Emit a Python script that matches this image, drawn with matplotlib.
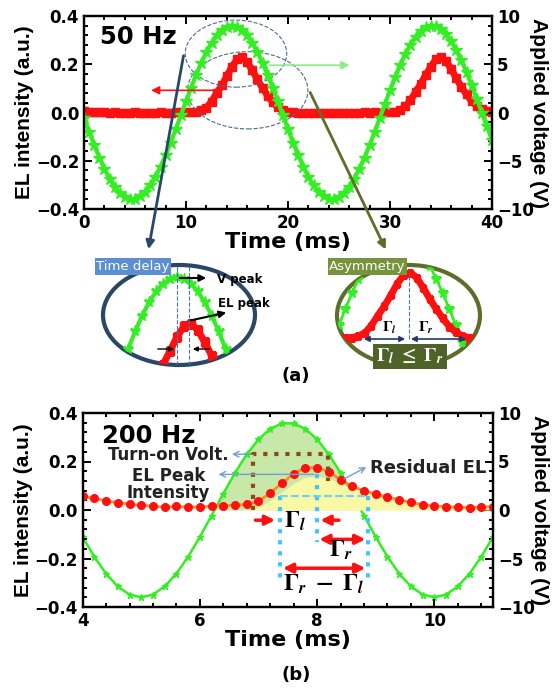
import numpy as np
import matplotlib.pyplot as plt
from matplotlib.patches import Ellipse, FancyArrowPatch
from matplotlib.ticker import AutoMinorLocator

plt.rcParams['font.family'] = ['DejaVu Sans']
plt.rcParams['font.weight'] = 'bold'
plt.rcParams['axes.labelweight'] = 'bold'
plt.rcParams['mathtext.fontset'] = 'stix'
plt.rcParams['axes.linewidth'] = 1.6

W, H = 558, 689

# ---- 50 Hz data (every 0.5 ms) ----
t50 = np.arange(0, 40.25, 0.5)
v50 = [-0.58, -2.00, -3.38, -4.67, -5.83, -6.85, -7.70, -8.34, -8.77, -8.98,
       -8.96, -8.70, -8.23, -7.54, -6.66, -5.61, -4.42, -3.11, -1.72, -0.29,
       1.15, 2.56, 3.90, 5.15, 6.26, 7.21, 7.98, 8.54, 8.88, 9.00,
       8.88, 8.54, 7.98, 7.21, 6.26, 5.15, 3.90, 2.56, 1.15, -0.29,
       -1.72, -3.11, -4.42, -5.61, -6.66, -7.54, -8.23, -8.70, -8.96, -8.98,
       -8.77, -8.34, -7.70, -6.85, -5.83, -4.67, -3.38, -2.00, -0.58, 0.86,
       2.28, 3.64, 4.91, 6.05, 7.04, 7.84, 8.45, 8.83, 9.00, 8.93,
       8.63, 8.11, 7.38, 6.46, 5.39, 4.16, 2.83, 1.43, 0.00, -1.44,
       -2.84]
el50 = [0.005, 0.003, 0.002, 0.002, 0.001, 0.000, 0.001, 0.000, -0.001, 0.000,
        0.001, 0.000, -0.001, 0.000, 0.000, 0.001, 0.000, 0.000, 0.001, 0.001,
        0.002, 0.003, 0.004, 0.009, 0.020, 0.045, 0.080, 0.112, 0.150, 0.190,
        0.220, 0.228, 0.210, 0.175, 0.137, 0.102, 0.070, 0.042, 0.022, 0.010,
        0.004, 0.001, 0.000, -0.001, -0.002, -0.003, -0.003, -0.002, -0.003, -0.002,
        -0.001, 0.000, -0.001, 0.000, 0.000, 0.001, 0.000, 0.001, 0.000, 0.001,
        0.002, 0.004, 0.010, 0.025, 0.050, 0.085, 0.117, 0.155, 0.190, 0.220,
        0.228, 0.213, 0.180, 0.142, 0.106, 0.075, 0.047, 0.027, 0.013, 0.006,
        0.002]
v_peak_t, el_peak_t = 14.5, 15.36

# ---- 200 Hz data (every 0.2 ms) ----
t200 = np.round(np.arange(4.0, 11.1, 0.2), 1)
v200 = [-2.78, -4.82, -6.56, -7.88, -8.72, -9.00, -8.72, -7.88, -6.56, -4.82,
        -2.78, -0.57, 1.69, 3.83, 5.74, 7.28, 8.37, 8.93, 8.93, 8.37,
        7.28, 5.74, 3.83, 1.69, -0.57, -2.78, -4.82, -6.56, -7.88, -8.72,
        -9.00, -8.72, -7.88, -6.56, -4.82, -2.78]
el200 = [0.056, 0.048, 0.038, 0.030, 0.025, 0.019, 0.016, 0.012, 0.015, 0.012,
         0.012, 0.016, 0.018, 0.020, 0.023, 0.036, 0.070, 0.110, 0.150, 0.175,
         0.175, 0.158, 0.125, 0.097, 0.080, 0.065, 0.054, 0.042, 0.031, 0.022,
         0.016, 0.014, 0.012, 0.010, 0.012, 0.014]
residual200 = [0, 0, 0, 0, 0, 0, 0, 0, 0, 0,
               0, 0, 0, 0, 0, 0.010, 0.040, 0.075, 0.110, 0.135,
               0.140, 0.130, 0.110, 0.090, 0.075, 0.062, 0.050, 0.040, 0.030, 0.022,
               0.016, 0.014, 0.012, 0.010, 0.010, 0.010]
turn_on_t, turn_on_end, turn_on_el = 6.91, 8.18, 0.23
peak_t, peak_el = 7.99, 0.147
half_l, half_r, half_el = 7.37, 8.87, 0.056

GREEN = '#33ee22'
RED = '#ff1010'
LABEL_FONT = ['Liberation Sans', 'DejaVu Sans']


def f(x, y):
    return (x / W, 1 - y / H)


def box(x0, y0, x1, y1):
    return [x0 / W, 1 - y1 / H, (x1 - x0) / W, (y1 - y0) / H]


def fig_arrow(p0, p1, **kw):
    fig.add_artist(FancyArrowPatch(f(*p0), f(*p1), transform=fig.transFigure, **kw))


def style(ax1, ax2, xlabel):
    for a in (ax1, ax2):
        a.tick_params(direction='in', which='both', labelsize=12, width=1.4)
        a.tick_params(which='major', length=6)
        a.tick_params(which='minor', length=3)
        a.yaxis.set_minor_locator(AutoMinorLocator(5))
    ax1.tick_params(top=True, which='both')
    ax1.xaxis.set_minor_locator(AutoMinorLocator(5))
    ax1.set_ylim(-0.4, 0.4)
    ax1.set_yticks([-0.4, -0.2, 0.0, 0.2, 0.4])
    ax2.set_ylim(-10, 10)
    ax2.set_yticks([-10, -5, 0, 5, 10])
    for lab in ax1.get_xticklabels() + ax1.get_yticklabels() + ax2.get_yticklabels():
        lab.set_fontweight('bold')
    ax1.set_xlabel(xlabel, fontsize=16, labelpad=0)
    ax1.set_ylabel('EL intensity (a.u.)', fontsize=15, labelpad=1, family=LABEL_FONT)
    ax2.set_ylabel('Applied voltage (V)', fontsize=15, rotation=-90, labelpad=10,
                   family=LABEL_FONT)


fig = plt.figure(figsize=(W / 100, H / 100), dpi=100)

# ================= (a) 50 Hz =================
ax1 = fig.add_axes(box(84, 16, 492, 209))
ax2 = ax1.twinx()
ax1.plot(t50, el50, color=RED, lw=5, marker='s', ms=6, mec=RED)
ax2.plot(t50, v50, color=GREEN, lw=3, marker='*', ms=9, mec=GREEN)
ax1.set_xlim(0, 40)
ax1.set_xticks([0, 10, 20, 30, 40])
style(ax1, ax2, 'Time (ms)')
ax1.text(0.04, 0.955, '50 Hz', transform=ax1.transAxes, fontsize=17.5, va='top')

ax2.add_patch(Ellipse((14.9, 6.1), 9.95, 6.95, fill=False, ec='#4a6a90', ls='--', lw=0.8))
ax2.add_patch(Ellipse((16.05, 2.3), 11.8, 8.0, fill=False, ec='#4a6a90', ls='--', lw=0.8))
ax2.annotate('', xy=(6.3, 2.3), xytext=(13.0, 2.3),
             arrowprops=dict(arrowstyle='-|>', color=RED, lw=1.2, mutation_scale=12))
ax2.annotate('', xy=(26.3, 4.9), xytext=(17.9, 4.9),
             arrowprops=dict(arrowstyle='-|>', color='#88ee88', lw=1.2, mutation_scale=12))

# long arrows to the zoom circles
fig_arrow((184, 53), (148, 252), arrowstyle='-|>', color='#2b4766', lw=2, mutation_scale=12)
fig_arrow((309, 90), (387, 252), arrowstyle='-|>', color='#5e6d2a', lw=2, mutation_scale=12)

# ---- zoom circle: time delay ----
axl = fig.add_axes(box(103, 265, 255, 365))
axl.set_xlim(9.2, 20.1)
axl.set_ylim(0.111, 0.394)
axl.axis('off')
clip_l = Ellipse((0.5, 0.5), 1, 1, transform=axl.transAxes)
ln1, = axl.plot(t50, np.array(v50) * 0.04, color=GREEN, lw=3, marker='*', ms=8, mec=GREEN)
ln2, = axl.plot(t50, el50, color=RED, lw=5, marker='s', ms=6, mec=RED)
ln3 = axl.axvline(v_peak_t, color='#4472c4', ls='--', lw=0.8)
ln4 = axl.axvline(el_peak_t, color='#4472c4', ls='--', lw=0.8)
for ln in (ln1, ln2, ln3, ln4):
    ln.set_clip_path(clip_l)
axl.add_patch(Ellipse((0.5, 0.5), 1, 1, transform=axl.transAxes, fill=False,
                      ec='#2b4766', lw=3, clip_on=False))

arrow_k = dict(arrowstyle='-|>', color='black', lw=1.5, mutation_scale=10)
fig_arrow((177, 278), (209, 278), **arrow_k)
fig_arrow((188, 321), (229, 312), **arrow_k)
fig_arrow((155, 349), (177, 349), arrowstyle='-|>', color='black', lw=1, mutation_scale=7)
fig_arrow((212, 349), (190, 349), arrowstyle='-|>', color='black', lw=1, mutation_scale=7)
fig.text(*f(217, 280), 'V peak', fontsize=8.5, va='center', ha='left')
fig.text(*f(218, 303), 'EL peak', fontsize=8.5, va='center', ha='left')
fig.text(*f(133, 266.5), 'Time delay', fontsize=9.5, weight='normal', color='white',
         ha='center', va='center',
         bbox=dict(boxstyle='square,pad=0.12', fc='#5b8fd0', ec='none'))

# ---- zoom circle: asymmetry ----
axr = fig.add_axes(box(337, 265, 480, 366))
axr.set_xlim(9.86, 20.86)
axr.set_ylim(-0.094, 0.254)
axr.axis('off')
clip_r = Ellipse((0.5, 0.5), 1, 1, transform=axr.transAxes)
ln1, = axr.plot(t50, np.array(v50) * 0.04, color=GREEN, lw=2, marker='*', ms=7, mec=GREEN)
ln2, = axr.plot(t50, el50, color=RED, lw=5, marker='s', ms=5, mec=RED)
ln3, = axr.plot([el_peak_t, el_peak_t], [0, max(el50)], color='#4472c4', ls='--', lw=0.8)
for ln in (ln1, ln2, ln3):
    ln.set_clip_path(clip_r)
axr.add_patch(Ellipse((0.5, 0.5), 1, 1, transform=axr.transAxes, fill=False,
                      ec='#5e6d2a', lw=3, clip_on=False))
arrow_n = dict(arrowstyle='<|-|>', color='#1f3a70', lw=1.2, mutation_scale=8)
fig_arrow((361, 339), (408, 339), **arrow_n)
fig_arrow((408, 339), (469, 339), **arrow_n)
fig.text(*f(389, 328), r'$\Gamma_l$', fontsize=11, ha='center', va='center')
fig.text(*f(426, 328), r'$\Gamma_r$', fontsize=11, ha='center', va='center')
fig.text(*f(410, 356.5), r'$\Gamma_l\ \leq\ \Gamma_r$', fontsize=14, color='white',
         ha='center', va='center',
         bbox=dict(boxstyle='square,pad=0.15', fc='#4f6228', ec='none'))
fig.text(*f(367.5, 266.5), 'Asymmetry', fontsize=9.5, weight='normal', color='white',
         ha='center', va='center',
         bbox=dict(boxstyle='square,pad=0.12', fc='#77933c', ec='none'))

fig.text(*f(296, 376), '(a)', fontsize=13, ha='center', va='center')

# ================= (b) 200 Hz =================
bx1 = fig.add_axes(box(82.6, 413, 493, 607))
bx2 = bx1.twinx()
bx1.set_zorder(bx2.get_zorder() + 1)
bx1.patch.set_visible(False)
v200a = np.array(v200)
bx2.fill_between(t200, v200a, 0, where=v200a > 0, interpolate=True,
                 color='#c8e8aa', lw=0)
bx2.plot(t200, v200, color=GREEN, lw=1.8, marker='*', ms=5, mec=GREEN)
bx1.fill_between(t200, residual200, 0, color='#f9f8a4', lw=0)
bx1.plot(t200, el200, color='#ff8c1a', lw=2, marker='o', ms=5.5, mfc=RED, mec=RED)
bx1.set_xlim(4, 11)
bx1.set_xticks([4, 6, 8, 10])
style(bx1, bx2, 'Time (ms)')
bx1.text(0.047, 0.945, '200 Hz', transform=bx1.transAxes, fontsize=17.5, va='top')

# turn-on voltage box
bx1.plot([turn_on_t, turn_on_t, turn_on_end, turn_on_end],
         [0, turn_on_el, turn_on_el, 0.12], ls=':', color='#8b4a1c', lw=3)
bx1.annotate('', xy=(6.5, turn_on_el), xytext=(turn_on_t, turn_on_el),
             arrowprops=dict(arrowstyle='->', color='#6f9fd8', lw=1))
bx1.text(6.49, 0.228, 'Turn-on Volt.', fontsize=12, color='#222222',
         ha='right', va='center')

# EL peak intensity
bx1.annotate('', xy=(6.27, peak_el), xytext=(peak_t, peak_el),
             arrowprops=dict(arrowstyle='->', color='#6f9fd8', lw=1))
bx1.text(5.46, 0.139, 'EL Peak', fontsize=12, color='#222222', ha='center', va='center')
bx1.text(5.46, 0.071, 'Intensity', fontsize=12, color='#222222', ha='center', va='center')

# residual EL
bx1.annotate('', xy=(8.88, 0.182), xytext=(8.42, 0.123),
             arrowprops=dict(arrowstyle='->', color='#6f9fd8', lw=1))
bx1.text(8.9, 0.172, 'Residual EL', fontsize=13, color='#222222', ha='left', va='center')

# width guides
sky = '#44c4ff'
bx1.plot([peak_t, peak_t], [peak_el, -0.13], ls=':', color=sky, lw=3)
bx1.plot([half_l, half_l], [half_el, -0.30], ls=':', color=sky, lw=3)
bx1.plot([half_r, half_r], [half_el, -0.30], ls=':', color=sky, lw=3)
bx1.plot([half_l, half_r], [half_el, half_el], ls='--', color='#6ccfff', lw=1.5)

red_arrow = dict(arrowstyle='-|>', color=RED, lw=2.5, mutation_scale=14)
red_dbl = dict(arrowstyle='<|-|>', color=RED, lw=2.5, mutation_scale=14)
bx1.annotate('', xy=(7.33, -0.042), xytext=(6.90, -0.042), arrowprops=red_arrow)
bx1.annotate('', xy=(8.01, -0.042), xytext=(8.42, -0.042), arrowprops=red_arrow)
bx1.annotate('', xy=(half_r, -0.121), xytext=(peak_t, -0.121), arrowprops=red_dbl)
bx1.annotate('', xy=(half_r, -0.240), xytext=(half_l, -0.240), arrowprops=red_dbl)
bx1.text(7.62, -0.045, r'$\mathbf{\Gamma}_{\mathit{l}}$', fontsize=17, ha='center', va='center')
bx1.text(8.41, -0.165, r'$\mathbf{\Gamma}_{\mathit{r}}$', fontsize=17, ha='center', va='center')
bx1.text(8.12, -0.305,
         r'$\mathbf{\Gamma}_{\mathit{r}}\ -\ \mathbf{\Gamma}_{\mathit{l}}$',
         fontsize=17, ha='center', va='center')

fig.text(*f(296, 675), '(b)', fontsize=13, ha='center', va='center')

fig.savefig('out.png', dpi=100)
